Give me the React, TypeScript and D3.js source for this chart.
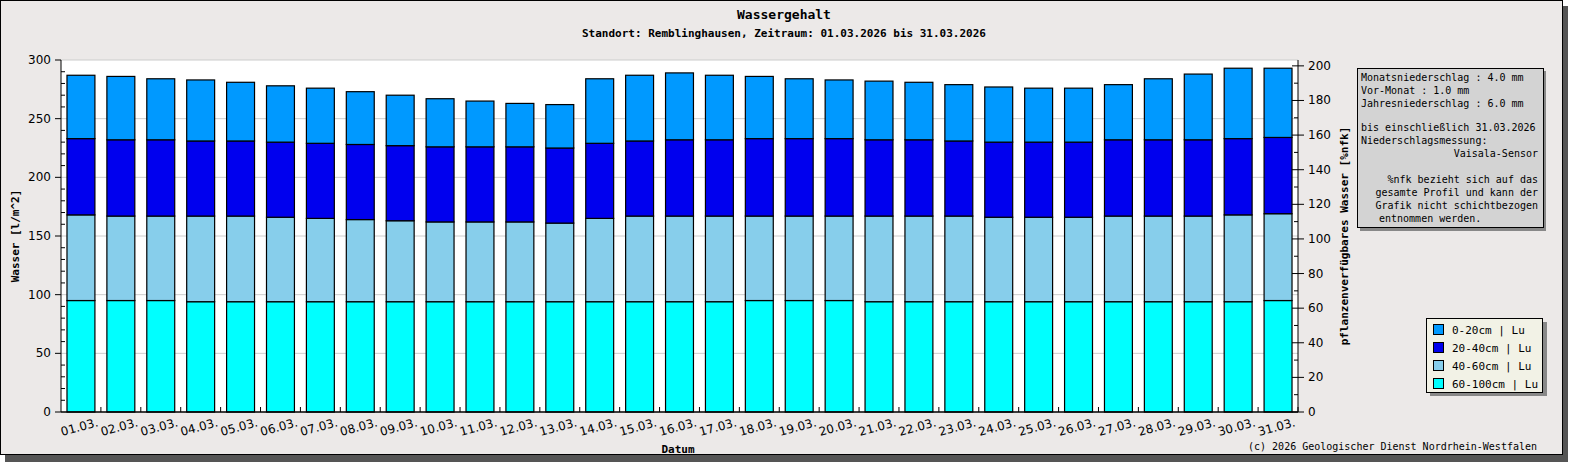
import * as d3 from 'd3';

const days = d3.range(1, 32).map(d => `${String(d).padStart(2, '0')}.03.`);
// cumulative tops per layer (l/m²)
const top60100 = [95,95,95,94,94,94,94,94,94,94,94,94,94,94,94,94,94,95,95,95,94,94,94,94,94,94,94,94,94,94,95];
const top4060 = [168,167,167,167,167,166,165,164,163,162,162,162,161,165,167,167,167,167,167,167,167,167,167,166,166,166,167,167,167,168,169];
const top2040 = [233,232,232,231,231,230,229,228,227,226,226,226,225,229,231,232,232,233,233,233,232,232,231,230,230,230,232,232,232,233,234];
const top020 = [287,286,284,283,281,278,276,273,270,267,265,263,262,284,287,289,287,286,284,283,282,281,279,277,276,276,279,284,288,293,293];

const layers = [
  { name: '60-100cm | Lu', color: '#00FFFF', top: top60100 },
  { name: '40-60cm | Lu', color: '#87CEEB', top: top4060 },
  { name: '20-40cm | Lu', color: '#0000EE', top: top2040 },
  { name: '0-20cm | Lu', color: '#0099FF', top: top020 },
];

const W = 1595, H = 470;
const M = { l: 61, r: 1298, t: 60, b: 412 };
const mono = '"DejaVu Sans Mono", monospace';
const sans = '"DejaVu Sans", sans-serif';

export default function App() {
  const x = d3.scaleBand<string>().domain(days).range([M.l, M.r]).paddingInner(0.3).paddingOuter(0.15);
  const y = d3.scaleLinear().domain([0, 300]).range([M.b, M.t]);
  const y2 = d3.scaleLinear().domain([0, 200 * 300 / 295]).range([M.b, M.t]);
  const step = x.step();
  const infoLines = [
    'Monatsniederschlag :    4.0 mm',
    'Vor-Monat          :    1.0 mm',
    'Jahresniederschlag :    6.0 mm',
  ];
  return (
    <svg width={W} height={H} style={{ position: 'absolute', left: 0, top: 0 }}>
      <rect x={5} y={6} width={1563} height={456} fill="#555" />
      <rect x={0.5} y={0.5} width={1562} height={454} fill="#ECE9E8" stroke="#000" />
      <rect x={M.l} y={M.t} width={M.r - M.l} height={M.b - M.t} fill="#fff" />
      {d3.range(50, 301, 50).map(v => (
        <line key={v} x1={M.l} x2={M.r} y1={y(v)} y2={y(v)} stroke="#ccc" />
      ))}
      {days.map((d, i) => {
        let prev = 0;
        return layers.map(l => {
          const v = l.top[i];
          const r = <rect key={d + l.name} x={x(d)} y={y(v)} width={x.bandwidth()} height={y(prev) - y(v)}
            fill={l.color} stroke="#000" strokeWidth={1.2} />;
          prev = v;
          return r;
        });
      })}
      <line x1={M.l} x2={M.l} y1={M.t} y2={M.b} stroke="#000" />
      <line x1={M.r} x2={M.r} y1={M.t} y2={M.b} stroke="#000" />
      <line x1={M.l} x2={M.r} y1={M.b} y2={M.b} stroke="#000" strokeWidth={1.5} />
      {d3.range(0, 301, 10).map(v => (
        <line key={'lt' + v} x1={M.l - (v % 50 ? 0 : 6)} x2={M.l + (v % 50 ? 4 : 0)} y1={y(v)} y2={y(v)} stroke="#000" />
      ))}
      {d3.range(0, 301, 50).map(v => (
        <text key={'ll' + v} x={M.l - 10} y={y(v) + 4} textAnchor="end" fontFamily={sans} fontSize={12}>{v}</text>
      ))}
      {d3.range(0, 201, 10).map(v => (
        <line key={'rt' + v} x1={M.r - (v % 20 ? 4 : 6)} x2={M.r + (v % 20 ? 0 : 6)} y1={y2(v)} y2={y2(v)} stroke="#000" />
      ))}
      {d3.range(0, 201, 20).map(v => (
        <text key={'rl' + v} x={M.r + 10} y={y2(v) + 4} fontFamily={sans} fontSize={12}>{v}</text>
      ))}
      {days.map(d => {
        const tx = (x(d) as number) + x.bandwidth() + step * 0.15;
        return (
          <g key={'x' + d}>
            <line x1={tx} x2={tx} y1={M.b} y2={M.b - 5} stroke="#000" />
            <text transform={`translate(${tx - 2},${M.b + 14}) rotate(-15)`} textAnchor="end" fontFamily={sans} fontSize={12}>{d}</text>
          </g>
        );
      })}
      <text x={784} y={19} textAnchor="middle" fontFamily={mono} fontWeight="bold" fontSize={13}>Wassergehalt</text>
      <text x={784} y={37} textAnchor="middle" fontFamily={mono} fontWeight="bold" fontSize={11}>Standort: Remblinghausen, Zeitraum: 01.03.2026 bis 31.03.2026</text>
      <text x={678} y={453} textAnchor="middle" fontFamily={mono} fontWeight="bold" fontSize={11}>Datum</text>
      <text transform="translate(19,236) rotate(-90)" textAnchor="middle" fontFamily={mono} fontWeight="bold" fontSize={11}>Wasser [l/m^2]</text>
      <text transform="translate(1348,236) rotate(-90)" textAnchor="middle" fontFamily={mono} fontWeight="bold" fontSize={11}>pflanzenverfügbares Wasser [%nfk]</text>
      <text x={1537} y={450} textAnchor="end" fontFamily={mono} fontSize={10}>(c) 2026 Geologischer Dienst Nordrhein-Westfalen</text>
      <rect x={1360} y={71} width={186} height={160} fill="#888" />
      <rect x={1357.5} y={68.5} width={186} height={159} fill="#D3D3D3" stroke="#000" />
      <g fontFamily={mono} fontSize={10} style={{ whiteSpace: 'pre' }}>
        {infoLines.map((t, i) => <text key={t} x={1361} y={81 + i * 13}>{t}</text>)}
        <text x={1361} y={131}>bis einschließlich 31.03.2026</text>
        <text x={1361} y={144}>Niederschlagsmessung:</text>
        <text x={1538} y={157} textAnchor="end">Vaisala-Sensor</text>
        {['%nfk bezieht sich auf das', 'gesamte Profil und kann der', 'Grafik nicht schichtbezogen'].map((t, i) => (
          <text key={t} x={1538} y={183 + i * 13} textAnchor="end">{t}</text>
        ))}
        <text x={1379} y={222}>entnommen werden.</text>
      </g>
      <rect x={1430} y={322} width={117} height={74} fill="#888" />
      <rect x={1426.5} y={318.5} width={116} height={74} fill="#F2F2E6" stroke="#000" />
      {[...layers].reverse().map((l, i) => (
        <g key={l.name}>
          <rect x={1433.5} y={324.5 + i * 18} width={10} height={10} fill={l.color} stroke="#000" />
          <text x={1452} y={334 + i * 18} fontFamily={mono} fontSize={11}>{l.name}</text>
        </g>
      ))}
    </svg>
  );
}
